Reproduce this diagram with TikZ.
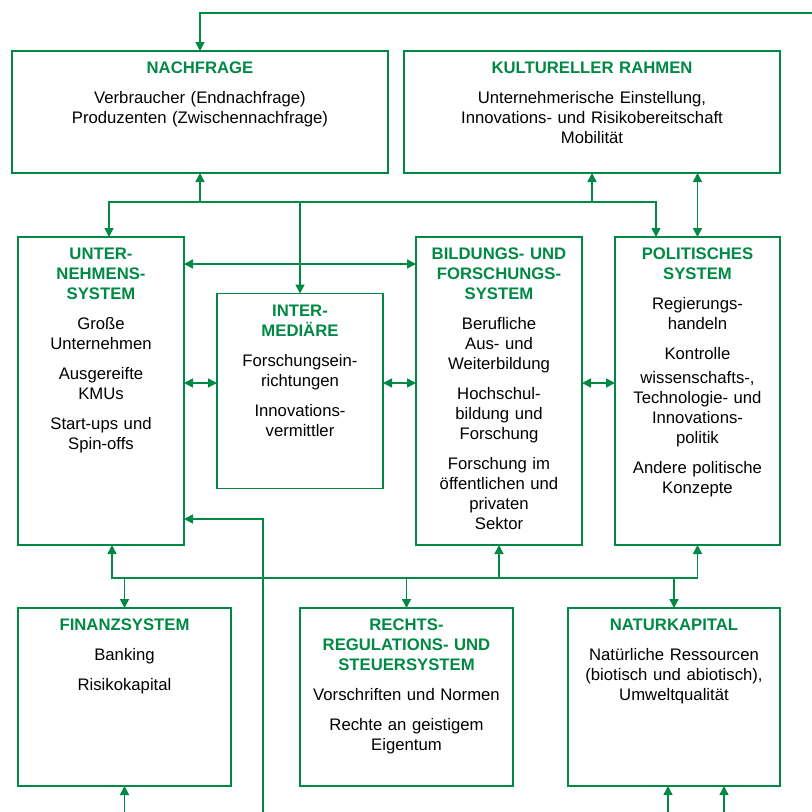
\documentclass[tikz,border=0pt]{standalone}
\usepackage{fontspec}
\setmainfont{Liberation Sans}
\usetikzlibrary{positioning,calc,arrows.meta}
\definecolor{sysgreen}{RGB}{0,137,68}
\newcommand{\syshead}[1]{\textcolor{sysgreen}{\textbf{#1}}}

\begin{document}
\begin{tikzpicture}[x=1pt, y=-1pt,
    sysbox/.style={rectangle, draw=sysgreen, line width=1.9pt, inner sep=0pt, outer sep=0pt},
    boxtext/.style={inner sep=0pt, align=center, font=\fontsize{16.7}{20}\selectfont},
    busline/.style={draw=sysgreen, line width=1.6pt},
    flow/.style={busline, -{Triangle[length=9pt,width=9pt]}},
    flowboth/.style={busline, {Triangle[length=9pt,width=9pt]}-{Triangle[length=9pt,width=9pt]}}]
    \useasboundingbox (0,0) rectangle (812,812);

    % boxes
    \node[sysbox, minimum width=376pt, minimum height=122pt] (nach) at (200,112) {};
    \node[sysbox, minimum width=376pt, minimum height=122pt, right=16pt of nach] (kult) {};
    \node[sysbox, minimum width=166pt, minimum height=308pt] (unt) at (101,391) {};
    \node[sysbox, minimum width=166pt, minimum height=195pt, right=33pt of unt] (inter) {};
    \node[sysbox, minimum width=166pt, minimum height=308pt, right=33pt of inter] (bild) {};
    \node[sysbox, minimum width=165pt, minimum height=308pt, right=33pt of bild] (pol) {};
    \node[sysbox, minimum width=213pt, minimum height=178pt] (fin) at (124.5,697) {};
    \node[sysbox, minimum width=213pt, minimum height=178pt, right=69pt of fin] (recht) {};
    \node[sysbox, minimum width=212pt, minimum height=178pt, right=55pt of recht] (natur) {};

    % texts
    \node[boxtext, text width=360pt, below=11pt of nach.north] (nachT) {\syshead{NACHFRAGE}\\[10pt]
        Verbraucher (Endnachfrage)\\Produzenten (Zwischennachfrage)};
    \node[boxtext, text width=360pt, below=11pt of kult.north] (kultT) {\syshead{KULTURELLER RAHMEN}\\[10pt]
        Unternehmerische Einstellung,\\Innovations- und Risikobereitschaft\\Mobilität};
    \node[boxtext, text width=160pt, below=11pt of unt.north] (untT) {\syshead{UNTER-\\NEHMENS-\\SYSTEM}\\[10pt]
        Große\\Unternehmen\\[10pt]Ausgereifte\\KMUs\\[10pt]Start-ups und\\Spin-offs};
    \node[boxtext, text width=160pt, below=11pt of inter.north] (interT) {\syshead{INTER-\\MEDIÄRE}\\[10pt]
        Forschungsein-\\richtungen\\[10pt]Innovations-\\vermittler};
    \node[boxtext, text width=160pt, below=11pt of bild.north] (bildT) {\syshead{BILDUNGS- UND\\FORSCHUNGS-\\SYSTEM}\\[10pt]
        Berufliche\\Aus- und\\Weiterbildung\\[10pt]Hochschul-\\bildung und\\Forschung\\[10pt]
        Forschung im\\öffentlichen und\\privaten\\Sektor};
    \node[boxtext, text width=160pt, below=11pt of pol.north] (polT) {\syshead{POLITISCHES\\SYSTEM}\\[10pt]
        Regierungs-\\handeln\\[10pt]Kontrolle\\[4pt]wissenschafts-,\\Technologie- und\\Innovations-\\politik\\[10pt]
        Andere politische\\Konzepte};
    \node[boxtext, text width=205pt, below=11pt of fin.north] (finT) {\syshead{FINANZSYSTEM}\\[10pt]
        Banking\\[10pt]Risikokapital};
    \node[boxtext, text width=205pt, below=11pt of recht.north] (rechtT) {\syshead{RECHTS-\\REGULATIONS- UND\\STEUERSYSTEM}\\[10pt]
        Vorschriften und Normen\\[10pt]Rechte an geistigem\\Eigentum};
    \node[boxtext, text width=205pt, below=11pt of natur.north] (naturT) {\syshead{NATURKAPITAL}\\[10pt]
        Natürliche Ressourcen\\(biotisch und abiotisch),\\Umweltqualität};

    % bus lines and free ends
    \coordinate (busN) at (109,202);
    \coordinate (busNE) at (656,202);
    \coordinate (busS) at (112,578);
    \coordinate (feedT) at (812,13);
    \coordinate (feedL) at (263,812);
    \coordinate (inN1) at (668,812);
    \coordinate (inN2) at (724,812);

    \draw[flow] (feedT) -| (nach.north);
    \draw[flowboth] (busN |- unt.north) -- (busN) -- (busNE) -- (busNE |- pol.north);
    \draw[flow] (busN -| nach.south) -- (nach.south);
    \draw[flow] (busN -| inter.north) -- (inter.north);
    \draw[flow] (busN -| kult.south) -- (kult.south);
    \draw[flowboth] (kult.south -| pol.north) -- (pol.north);

    \draw[flowboth] ([yshift=-27pt]unt.north east) -- ([yshift=-27pt]bild.north west);
    \draw[flowboth] ([yshift=8pt]unt.east) -- ([yshift=8pt]inter.west);
    \draw[flowboth] ([yshift=8pt]inter.east) -- ([yshift=8pt]bild.west);
    \draw[flowboth] ([yshift=8pt]bild.east) -- ([yshift=8pt]pol.west);
    \draw[flow] (feedL) |- ([yshift=-128pt]unt.east);

    \draw[flowboth] (busS |- unt.south) -- (busS) -- (busS -| pol.south) -- (pol.south);
    \draw[flow] (busS -| bild.south) -- (bild.south);
    \draw[flow] (busS -| fin.north) -- (fin.north);
    \draw[flow] (busS -| recht.north) -- (recht.north);
    \draw[flow] (busS -| natur.north) -- (natur.north);

    \draw[flow] (feedL -| fin.south) -- (fin.south);
    \draw[flow] (inN1) -- (inN1 |- natur.south);
    \draw[flow] (inN2) -- (inN2 |- natur.south);
\end{tikzpicture}
\end{document}
